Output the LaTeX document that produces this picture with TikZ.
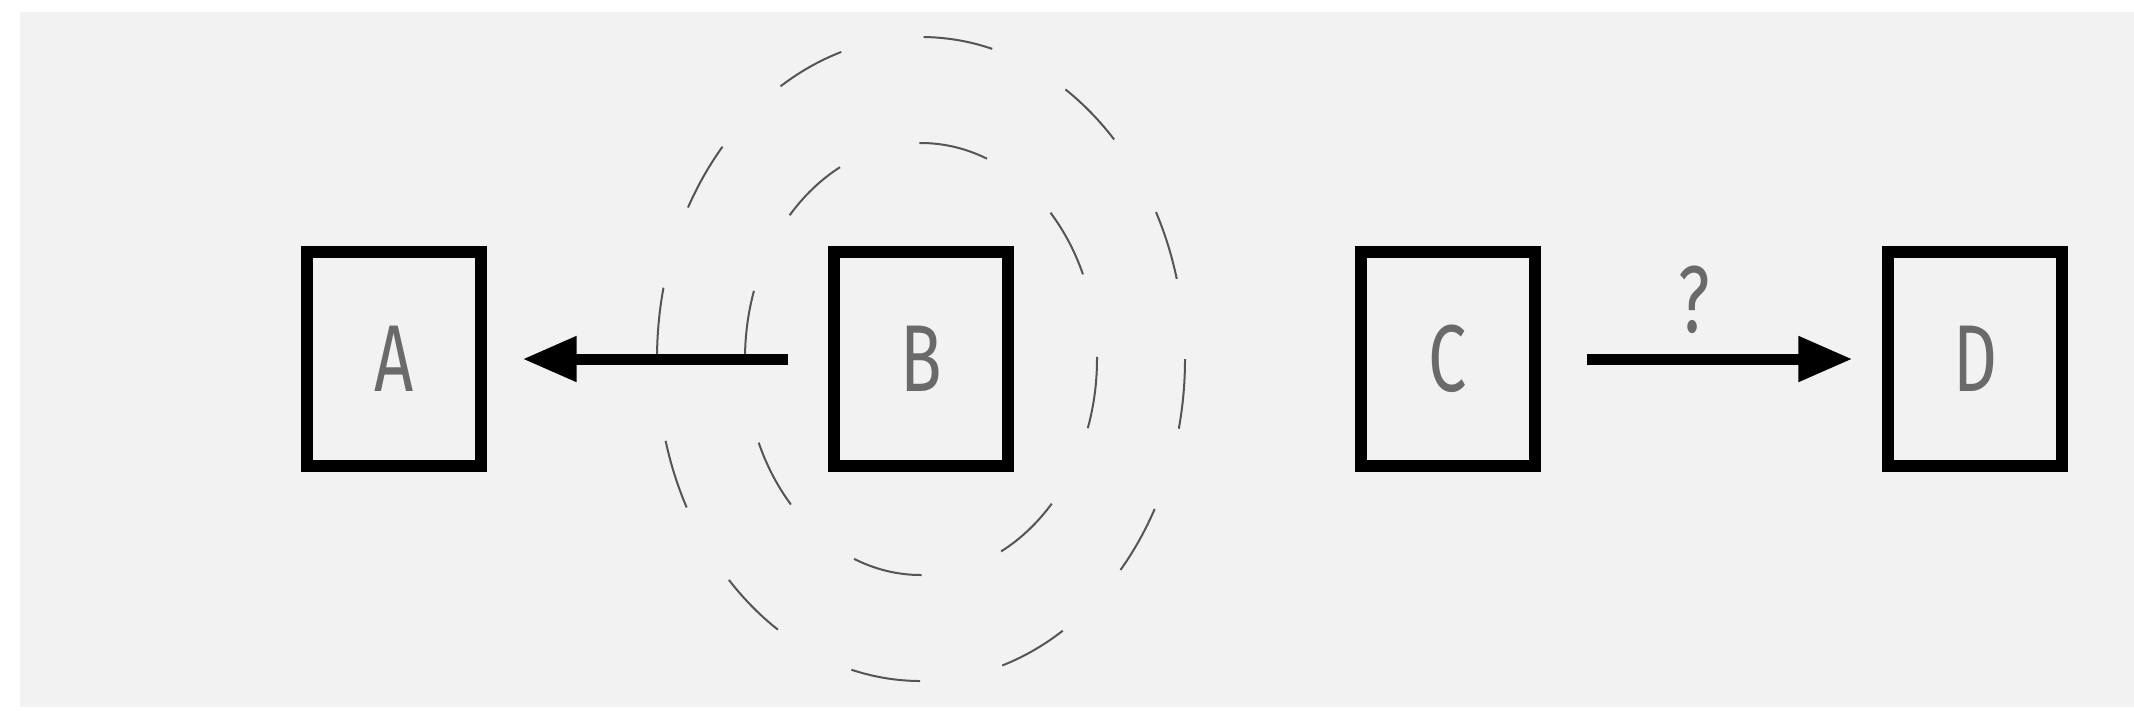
\documentclass[tikz,border=0pt]{standalone}
\usepackage{fontspec}
\setmainfont{Fira Sans}[FakeStretch=0.72]
\usetikzlibrary{arrows.meta}
\definecolor{paper}{HTML}{F2F2F2}
\definecolor{ink}{HTML}{6A6A6A}
\definecolor{ring}{HTML}{555555}
\tikzset{
  box/.style={draw, line width=0.12cm, minimum width=1.73cm, minimum height=2.13cm,
    inner sep=0pt, text=ink, font=\fontsize{27}{30}\selectfont},
  wave/.style={ring, line width=0.02cm, dash pattern=on 0.70cm off 0.84cm},
  link/.style={line width=0.11cm, -{Triangle[length=0.54cm, width=0.43cm]}},
  tag/.style={inner sep=0pt, text=ink, font=\fontsize{27}{30}\selectfont},
}
\begin{document}
\begin{tikzpicture}[x=0.01cm, y=-0.01cm]
\useasboundingbox (0,0) rectangle (2134,720);
\fill[white] (0,0) rectangle (2134,720);
\fill[paper] (20,12) rectangle (2134,707);
\foreach \n [count=\i] in {A,B,C,D}
  \node[box] (\n) at ({394+527*(\i-1)},359) {\n};
\foreach \rx/\ry in {176/216,264/322}
  \draw[wave] (B.center) ellipse[x radius=\rx, y radius=\ry];
\draw[link, shorten <=0.4cm, shorten >=0.36cm] (B.west) -- (A.east);
\draw[link, shorten <=0.46cm, shorten >=0.3cm] (C.east) -- (D.west)
  node[tag, pos=0.45, above=0.2cm] {?};
\end{tikzpicture}
\end{document}
